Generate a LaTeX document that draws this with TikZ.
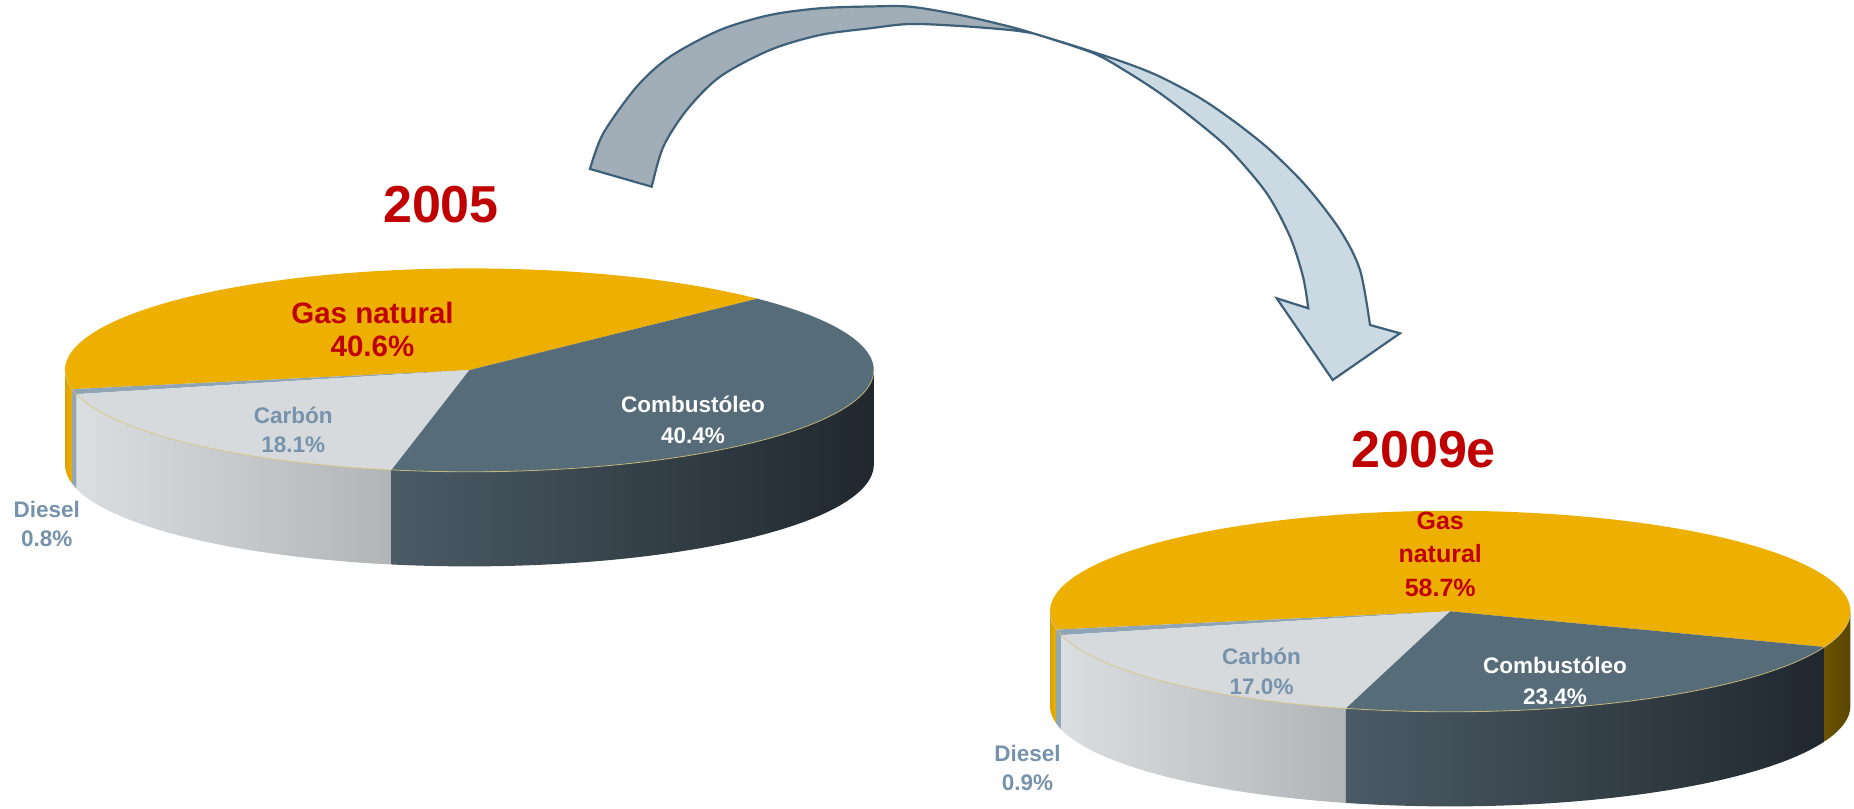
\documentclass[tikz,border=0pt]{standalone}
\usepackage{fontspec}
\setmainfont{Liberation Sans}
\usetikzlibrary{calc}

\definecolor{GasOrange}{HTML}{EDB000}
\definecolor{GasSide}{HTML}{DDA100}
\definecolor{GasDark}{HTML}{6B5300}
\definecolor{GasDarker}{HTML}{5A4500}
\definecolor{ComTop}{HTML}{566C79}
\definecolor{ComSideL}{HTML}{4B5B65}
\definecolor{ComSideR}{HTML}{20282E}
\definecolor{CarTop}{HTML}{D6DADD}
\definecolor{CarSideL}{HTML}{DADEE1}
\definecolor{CarSideR}{HTML}{B1B5B8}
\definecolor{DieTop}{HTML}{8FA5B5}
\definecolor{DieSide}{HTML}{93A7B5}
\definecolor{TxtRed}{HTML}{C00000}
\definecolor{TxtGray}{HTML}{7693AB}
\definecolor{ArrowDark}{HTML}{A2AEB7}
\definecolor{ArrowLight}{HTML}{CAD9E2}
\definecolor{ArrowLine}{HTML}{3E6079}
\definecolor{RimLine}{HTML}{D8C27A}

% top face of one slice: centre, start angle, end angle, colour
\newcommand{\pietop}[4]{%
  \fill[#4] (#1) -- ($(#1)+({\pierx*cos(#2)},{\piery*sin(#2)})$)
    arc[start angle=#2, end angle=#3, x radius=\pierx, y radius=\piery] -- cycle;}
% front wall of one slice: centre, start angle, end angle, left colour, right colour
\newcommand{\pieside}[5]{%
  \shade[left color=#4, right color=#5]
    ($(#1)+({\pierx*cos(#2)},{\piery*sin(#2)})$)
    arc[start angle=#2, end angle=#3, x radius=\pierx, y radius=\piery]
    -- ++(0,-\piedep)
    arc[start angle=#3, end angle=#2, x radius=\pierx, y radius=\piery] -- cycle;}
% thin line on the front rim of the top face
\newcommand{\pierim}[1]{%
  \draw[RimStyle] ($(#1)+(-\pierx,0)$)
    arc[start angle=180, end angle=360, x radius=\pierx, y radius=\piery];}

\begin{document}
\begin{tikzpicture}[x=1pt,y=1pt]
  \tikzset{YearStyle/.style = {
    font      = \bfseries\fontsize{52}{60}\selectfont,
    text      = TxtRed,
    inner sep = 0pt
    }
  }
  \tikzset{GasStyle/.style = {
    font      = \bfseries\fontsize{29.5}{33}\selectfont,
    text      = TxtRed,
    align     = center,
    inner sep = 0pt
    }
  }
  \tikzset{ComStyle/.style = {
    font      = \bfseries\fontsize{22.5}{30.5}\selectfont,
    text      = white,
    align     = center,
    inner sep = 0pt
    }
  }
  \tikzset{GrayStyle/.style = {
    font      = \bfseries\fontsize{22.5}{29.5}\selectfont,
    text      = TxtGray,
    align     = center,
    inner sep = 0pt
    }
  }
  \tikzset{ArrowStyle/.style = {
    draw       = ArrowLine,
    line width = 2.2pt,
    line join  = miter
    }
  }
  \tikzset{RimStyle/.style = {
    draw       = RimLine,
    line width = 0.8pt,
    opacity    = 0.8
    }
  }

  \useasboundingbox (0,0) rectangle (1854,808);

  % curved arrow, back half
  \filldraw[ArrowStyle, fill=ArrowDark]
    plot[smooth] coordinates {(590,639) (603.3,674.7) (636.7,721.3) (670,751.3)
      (720,778) (770,793) (820,799.7) (870,801.5) (910,801.3) (960,793)
      (1010,781.3) (1033,774.7)}
    -- plot[smooth] coordinates {(1033,774.7) (1010,778) (960,782) (910,784)
      (870,779.7) (820,773) (770,758) (720,731.3) (686.7,698) (663.3,661.3)
      (651.7,621.3)}
    -- cycle;
  % curved arrow, front half with head
  \coordinate (rb) at (1400,474.7);
  \coordinate (tip) at (1332.7,428);
  \coordinate (lb) at (1276.7,509.7);
  \filldraw[ArrowStyle, fill=ArrowLight]
    plot[smooth] coordinates {(1033,774.7) (1076.7,761.3) (1126.7,744.7)
      (1160,731.3) (1200,710) (1235,686) (1270,658) (1306.7,621.3) (1340,578)
      (1360,538) (1370,483)}
    -- (rb) -- (tip) -- (lb)
    -- plot[smooth] coordinates {(1308.3,499.7) (1303,531.3) (1290,571.3)
      (1266.7,614.7) (1230,658) (1195,688) (1160,714.7) (1126.7,736.3)
      (1093,755) (1033,774.7)}
    -- cycle;

  % pie 2005
  \coordinate (p05) at (469.4,437.9);
  \def\pierx{404.4}\def\piery{101.7}\def\piedep{94.6}
  \pieside{p05}{180}{190.8}{GasSide}{GasOrange}
  \pieside{p05}{190.8}{193.7}{DieSide}{DieSide}
  \pieside{p05}{193.7}{258.9}{CarSideL}{CarSideR}
  \pieside{p05}{258.9}{360}{ComSideL}{ComSideR}
  \pietop{p05}{44.6}{190.8}{GasOrange}
  \pietop{p05}{190.8}{193.7}{DieTop}
  \pietop{p05}{193.7}{258.9}{CarTop}
  \pietop{p05}{258.9}{404.6}{ComTop}
  \pierim{p05}

  % pie 2009e
  \coordinate (p09) at (1450.2,196.7);
  \def\pierx{400.2}\def\piery{100.5}\def\piedep{94.6}
  \pieside{p09}{180}{190.5}{GasSide}{GasOrange}
  \pieside{p09}{190.5}{193.7}{DieSide}{DieSide}
  \pieside{p09}{193.7}{254.9}{CarSideL}{CarSideR}
  \pieside{p09}{254.9}{339.2}{ComSideL}{ComSideR}
  \pieside{p09}{339.2}{360}{GasDark}{GasDarker}
  \pietop{p09}{-20.8}{190.5}{GasOrange}
  \pietop{p09}{190.5}{193.7}{DieTop}
  \pietop{p09}{193.7}{254.9}{CarTop}
  \pietop{p09}{254.9}{339.2}{ComTop}
  \pierim{p09}

  % labels
  \node[YearStyle](y05) at (441,603.4) {2005};
  \node[GasStyle](g05) at (372.5,478.1) {Gas natural\\40.6\%};
  \node[ComStyle](c05) at (692.9,388.2) {Combustóleo\\40.4\%};
  \node[GrayStyle](k05) at (293.2,378.2) {Carbón\\18.1\%};
  \node[GrayStyle](d05) at (46.7,284.2) {Diesel\\0.8\%};

  \node[YearStyle](y09) at (1423.6,358.7) {2009e};
  \node[GasStyle, font=\bfseries\fontsize{25}{33.5}\selectfont](g09) at (1440.2,253.8) {Gas\\natural\\58.7\%};
  \node[ComStyle](c09) at (1554.9,126.9) {Combustóleo\\23.4\%};
  \node[GrayStyle](k09) at (1261.6,136.4) {Carbón\\17.0\%};
  \node[GrayStyle](d09) at (1027.5,40) {Diesel\\0.9\%};
\end{tikzpicture}
\end{document}
